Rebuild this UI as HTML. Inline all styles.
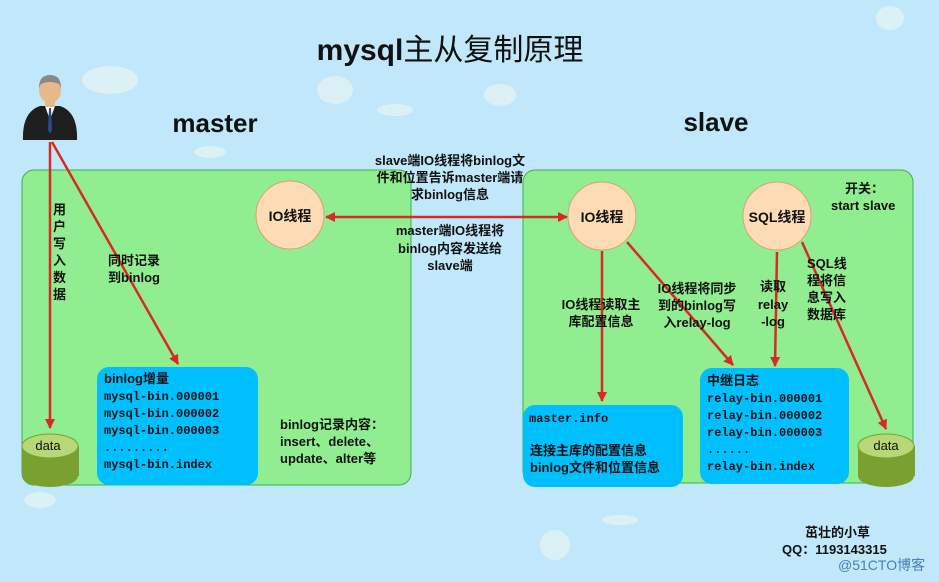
<!DOCTYPE html>
<html><head><meta charset="utf-8"><style>
html,body{margin:0;padding:0;width:939px;height:582px;overflow:hidden;background:#c0e8fa}
svg{display:block}
text{font-family:"Liberation Sans","Noto Sans CJK SC",sans-serif;font-weight:bold;fill:#111}
.m{font-family:"Liberation Mono","Noto Sans CJK SC",monospace;font-weight:bold}
</style></head><body>
<svg width="939" height="582" viewBox="0 0 939 582" xmlns="http://www.w3.org/2000/svg">
<defs>
<marker id="a" markerWidth="10" markerHeight="10" refX="9" refY="5" orient="auto" markerUnits="userSpaceOnUse"><path d="M0,0 L10,5 L0,10 z" fill="#d82a20"/></marker>
<marker id="b" markerWidth="10" markerHeight="10" refX="1" refY="5" orient="auto" markerUnits="userSpaceOnUse"><path d="M10,0 L0,5 L10,10 z" fill="#d82a20"/></marker>
</defs>
<rect width="939" height="582" fill="#c0e8fa"/>
<g fill="#eef6f2" opacity="0.6">
<ellipse cx="110" cy="80" rx="28" ry="14"/><ellipse cx="335" cy="90" rx="18" ry="14"/><ellipse cx="500" cy="95" rx="16" ry="11"/>
<ellipse cx="890" cy="18" rx="14" ry="12"/><ellipse cx="555" cy="545" rx="15" ry="15"/><ellipse cx="40" cy="500" rx="16" ry="8"/>
<ellipse cx="395" cy="110" rx="18" ry="6"/><ellipse cx="210" cy="152" rx="16" ry="6"/><ellipse cx="620" cy="520" rx="18" ry="5"/>
</g>
<text x="450" y="60" font-size="30" text-anchor="middle">mysql<tspan style="font-weight:normal">主从复制原理</tspan></text>
<text x="215" y="132" font-size="26" text-anchor="middle">master</text>
<text x="716" y="131" font-size="26" text-anchor="middle">slave</text>
<rect x="22" y="170" width="389" height="315" rx="12" fill="#90ee90" stroke="#3cb04a"/>
<rect x="523" y="170" width="390" height="313" rx="12" fill="#90ee90" stroke="#3cb04a"/>
<g>
<path d="M23,140 Q22,112 40,106 L60,106 Q78,112 77,140 Z" fill="#1e1e1e"/>
<path d="M45,106 L50,120 L55,106 Z" fill="#fff"/><path d="M49,108 L51,108 L52,130 L50,134 L48,130 Z" fill="#2a4a8a"/>
<rect x="45" y="97" width="10" height="10" fill="#e6b88a"/>
<ellipse cx="50" cy="90" rx="11" ry="13" fill="#e6b88a"/>
<path d="M39,88 Q39,75 50,75 Q61,75 61,88 L59,84 Q50,80 41,84 Z" fill="#888"/>
</g>
<circle cx="290" cy="215" r="34" fill="#fddcb5" stroke="#d9a070"/>
<circle cx="602" cy="216" r="34" fill="#fddcb5" stroke="#d9a070"/>
<circle cx="777" cy="216" r="34" fill="#fddcb5" stroke="#d9a070"/>
<text x="290" y="221" font-size="14" text-anchor="middle">IO线程</text>
<text x="602" y="222" font-size="14" text-anchor="middle">IO线程</text>
<text x="777" y="222" font-size="14" text-anchor="middle">SQL线程</text>
<rect x="97" y="367" width="161" height="118" rx="12" fill="#00bfff"/>
<rect x="523" y="405" width="160" height="82" rx="12" fill="#00bfff"/>
<rect x="700" y="368" width="149" height="116" rx="12" fill="#00bfff"/>
<g><rect x="22" y="446" width="57" height="30" fill="#7aa030"/><ellipse cx="50" cy="476" rx="28" ry="11" fill="#7aa030"/><ellipse cx="50" cy="446" rx="28" ry="12" fill="#b8d878" stroke="#7aa030"/></g>
<g><rect x="858" y="446" width="57" height="30" fill="#7aa030"/><ellipse cx="886" cy="476" rx="28" ry="11" fill="#7aa030"/><ellipse cx="886" cy="446" rx="28" ry="12" fill="#b8d878" stroke="#7aa030"/></g>
<text x="48" y="450" font-size="13" text-anchor="middle" style="font-weight:normal">data</text>
<text x="886" y="450" font-size="13" text-anchor="middle" style="font-weight:normal">data</text>
<g stroke="#d82a20" stroke-width="2.5" fill="none">
<line x1="50" y1="142" x2="50" y2="428" marker-end="url(#a)"/>
<line x1="52" y1="142" x2="178" y2="364" marker-end="url(#a)"/>
<line x1="326" y1="217" x2="567" y2="217" marker-end="url(#a)" marker-start="url(#b)"/>
<line x1="602" y1="251" x2="602" y2="401" marker-end="url(#a)"/>
<line x1="627" y1="242" x2="733" y2="365" marker-end="url(#a)"/>
<line x1="777" y1="252" x2="775" y2="366" marker-end="url(#a)"/>
<line x1="802" y1="242" x2="886" y2="429" marker-end="url(#a)"/>
</g>
<g font-size="13">
<text x="53" y="214">用</text><text x="53" y="231">户</text><text x="53" y="248">写</text><text x="53" y="265">入</text><text x="53" y="282">数</text><text x="53" y="299">据</text>
<text x="108" y="265">同时记录</text><text x="108" y="282">到binlog</text>
<text x="450" y="165" text-anchor="middle">slave端IO线程将binlog文</text>
<text x="450" y="182" text-anchor="middle">件和位置告诉master端请</text>
<text x="450" y="199" text-anchor="middle">求binlog信息</text>
<text x="450" y="235" text-anchor="middle">master端IO线程将</text>
<text x="450" y="253" text-anchor="middle">binlog内容发送给</text>
<text x="450" y="270" text-anchor="middle">slave端</text>
<text x="104" y="383">binlog增量</text>
<text x="280" y="429">binlog记录内容：</text>
<text x="280" y="446">insert、delete、</text>
<text x="280" y="463">update、alter等</text>
<text x="601" y="309" text-anchor="middle">IO线程读取主</text>
<text x="601" y="326" text-anchor="middle">库配置信息</text>
<text x="697" y="293" text-anchor="middle">IO线程将同步</text>
<text x="697" y="310" text-anchor="middle">到的binlog写</text>
<text x="697" y="327" text-anchor="middle">入relay-log</text>
<text x="773" y="291" text-anchor="middle">读取</text>
<text x="773" y="309" text-anchor="middle">relay</text>
<text x="773" y="326" text-anchor="middle">-log</text>
<text x="807" y="268">SQL线</text><text x="807" y="285">程将信</text><text x="807" y="302">息写入</text><text x="807" y="319">数据库</text>
<text x="845" y="193">开关：</text>
<text x="831" y="210">start  slave</text>
<text x="530" y="455">连接主库的配置信息</text>
<text x="530" y="472">binlog文件和位置信息</text>
<text x="707" y="385">中继日志</text>
<text x="805" y="537">茁壮的小草</text>
<text x="782" y="554">QQ：1193143315</text>
</g>
<g font-size="12">
<text class="m" x="104" y="400">mysql-bin.000001</text>
<text class="m" x="104" y="417">mysql-bin.000002</text>
<text class="m" x="104" y="434">mysql-bin.000003</text>
<text class="m" x="104" y="451">.........</text>
<text class="m" x="104" y="468">mysql-bin.index</text>
<text class="m" x="529" y="422">master.info</text>
<text class="m" x="707" y="402">relay-bin.000001</text>
<text class="m" x="707" y="419">relay-bin.000002</text>
<text class="m" x="707" y="436">relay-bin.000003</text>
<text class="m" x="707" y="453">......</text>
<text class="m" x="707" y="470">relay-bin.index</text>
</g>
<text x="838" y="570" font-size="14" style="fill:#4a7fb0;font-weight:normal">@51CTO博客</text>
</svg>
</body></html>
